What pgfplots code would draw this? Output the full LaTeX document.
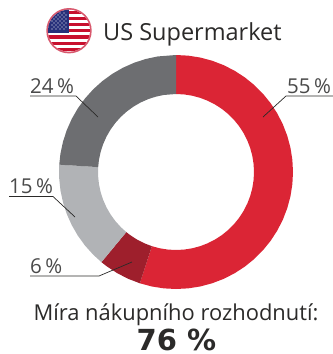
\documentclass[border=0pt]{standalone}
\usepackage{pgfplots}
\pgfplotsset{compat=1.18}
\usepackage{fontspec}
\setmainfont{Open Sans}
\newfontfamily\boldf{DejaVu Sans Bold}
\definecolor{cred}{HTML}{DB2535}
\definecolor{cdark}{HTML}{9E1F2C}
\definecolor{clight}{HTML}{B1B3B6}
\definecolor{cgray}{HTML}{6D6E71}
\definecolor{ctext}{HTML}{2B2A29}
\definecolor{ltext}{HTML}{4A4A4A}
\definecolor{fred}{HTML}{C8102E}
\definecolor{fblue}{HTML}{27307A}
\begin{document}
\begin{tikzpicture}[x=1bp,y=-1bp]
\useasboundingbox (0,0) rectangle (333,354);
\begin{axis}[at={(176bp,-172bp)},anchor=center,scale only axis,width=234bp,height=234bp,
  xmin=-117,xmax=117,ymin=-117,ymax=117,hide axis,clip=false,enlargelimits=false]
\addplot[fill=cred,draw=none,data cs=polar] coordinates {(90,117)(84,117)(78,117)(72,117)(66,117)(60,117)(54,117)(48,117)(42,117)(36,117)(30,117)(24,117)(18,117)(12,117)(6,117)(0,117)(-6,117)(-12,117)(-18,117)(-24,117)(-30,117)(-36,117)(-42,117)(-48,117)(-54,117)(-60,117)(-66,117)(-72,117)(-78,117)(-84,117)(-90,117)(-96,117)(-102,117)(-108,117)
(-108,78)(-102,78)(-96,78)(-90,78)(-84,78)(-78,78)(-72,78)(-66,78)(-60,78)(-54,78)(-48,78)(-42,78)(-36,78)(-30,78)(-24,78)(-18,78)(-12,78)(-6,78)(0,78)(6,78)(12,78)(18,78)(24,78)(30,78)(36,78)(42,78)(48,78)(54,78)(60,78)(66,78)(72,78)(78,78)(84,78)(90,78)} -- cycle;
\addplot[fill=cdark,draw=none,data cs=polar] coordinates {(-108,117)(-114,117)(-120,117)(-126,117)(-129.6,117)(-129.6,78)(-126,78)(-120,78)(-114,78)(-108,78)} -- cycle;
\addplot[fill=clight,draw=none,data cs=polar] coordinates {(-129.6,117)(-135,117)(-141,117)(-147,117)(-153,117)(-159,117)(-165,117)(-171,117)(-177,117)(-183.6,117)(-183.6,78)(-177,78)(-171,78)(-165,78)(-159,78)(-153,78)(-147,78)(-141,78)(-135,78)(-129.6,78)} -- cycle;
\addplot[fill=cgray,draw=none,data cs=polar] coordinates {(-183.6,117)(-189,117)(-195,117)(-201,117)(-207,117)(-213,117)(-219,117)(-225,117)(-231,117)(-237,117)(-243,117)(-249,117)(-255,117)(-261,117)(-270,117)(-270,78)(-261,78)(-255,78)(-249,78)(-243,78)(-237,78)(-231,78)(-225,78)(-219,78)(-213,78)(-207,78)(-201,78)(-195,78)(-189,78)(-183.6,78)} -- cycle;
\end{axis}
% leader lines
\draw[line width=0.7bp,ctext] (30,96)--(76,96)--(98,117);
\draw[line width=0.7bp,ctext] (333,96)--(286,96)--(263,117);
\draw[line width=0.7bp,ctext] (9,196.5)--(53,196.5)--(75,217);
\draw[line width=0.7bp,ctext] (30,276)--(99,276)--(132,262);
% labels
\def\lab#1#2#3{\node[anchor=base west,inner sep=0pt,text=ltext,font=\fontsize{20.5bp}{24bp}\selectfont] at (#1,#2) {#3};}
\lab{30}{93}{24\,\%}
\lab{287}{93}{55\,\%}
\lab{9}{193}{15\,\%}
\lab{30}{273}{6\,\%}
\node[anchor=base west,inner sep=0pt,text=ctext,font=\fontsize{23.5bp}{28bp}\selectfont] at (103,40) {US Supermarket};
\node[anchor=base,inner sep=0pt,text=ctext,font=\fontsize{21.9bp}{24bp}\selectfont] at (176,320) {Míra nákupního rozhodnutí:};
\node[anchor=base,inner sep=0pt,text=ctext,font=\boldf\fontsize{29bp}{30bp}\selectfont] at (176.5,350.5) {76 \%};
% flag
\fill[white!30!fred] (69,30.7) circle (22.7);
\begin{scope}
\clip (69,30.7) circle (21);
\fill[white] (45,8) rectangle (93,54);
\foreach \i in {0,2,4,6,8,10,12}{
  \fill[fred] (45,{10.6+\i*3.1}) rectangle (93,{10.6+(\i+1)*3.1});
}
\fill[fblue] (45,8) rectangle (69,32.5);
\foreach \yy in {13,17,21,25,29}{\foreach \xx in {52,56,60,64}{\fill[white] (\xx,\yy) circle (0.7);}}
\foreach \yy in {15,19,23,27}{\foreach \xx in {54,58,62,66}{\fill[white] (\xx,\yy) circle (0.7);}}
\end{scope}
\end{tikzpicture}
\end{document}
